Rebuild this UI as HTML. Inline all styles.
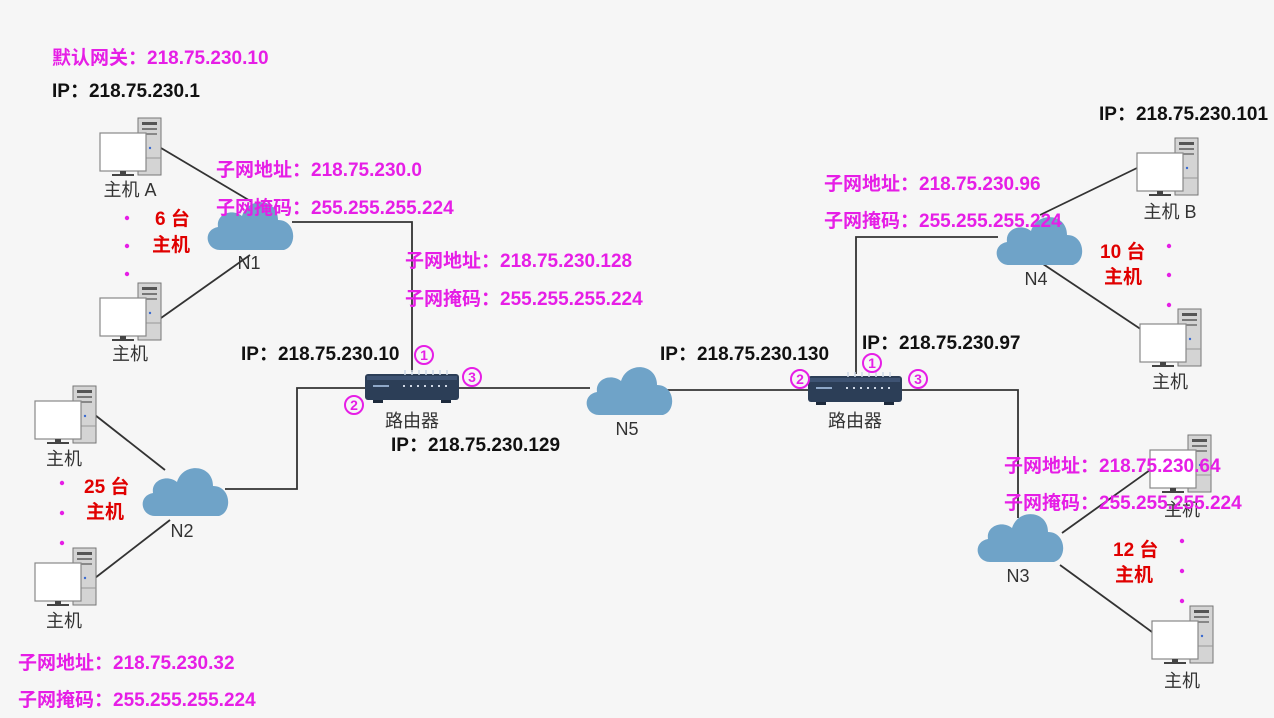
<!DOCTYPE html>
<html><head><meta charset="utf-8"><style>
html,body{margin:0;padding:0;background:#f6f6f6;}
svg{display:block;}
text{font-family:"Liberation Sans","Noto Sans CJK SC",sans-serif;}
.m{fill:#e61ee6;font-weight:bold;font-size:19px;}
.k{fill:#111;font-weight:bold;font-size:19px;}
.r{fill:#e00000;font-weight:bold;font-size:19px;}
.g{fill:#333;font-size:18px;}
.c{fill:#e61ee6;font-size:14px;font-weight:bold;}
</style></head><body>
<svg width="1274" height="718" viewBox="0 0 1274 718" xmlns="http://www.w3.org/2000/svg">
<defs>
<g id="pc">
<rect x="38" y="0" width="23" height="57" fill="#d4d4d4" stroke="#777" stroke-width="1"/>
<rect x="42" y="4" width="15" height="3" fill="#555"/>
<rect x="42" y="10" width="15" height="2" fill="#777"/>
<rect x="42" y="15" width="15" height="2" fill="#888"/>
<circle cx="50" cy="30" r="1.2" fill="#3a6ad0"/>
<line x1="38" y1="40" x2="61" y2="40" stroke="#999"/>
<rect x="0" y="15" width="46" height="38" fill="#fff" stroke="#888" stroke-width="1.2"/>
<rect x="20" y="53" width="6" height="4" fill="#444"/>
<rect x="12" y="56" width="22" height="2" fill="#444"/>
</g>
<g id="cloud">
<path d="M16,54 C2,54 -2,34 14,31 C12,18 28,12 38,20 C44,0 74,2 74,24 C92,24 94,50 80,54 Z" fill="#6fa3c8"/>
</g>
<g id="router">
<rect x="0" y="4" width="94" height="26" rx="3" fill="#2c3e57"/>
<rect x="2" y="6" width="90" height="4" fill="#3e5373"/>
<line x1="8" y1="16" x2="24" y2="16" stroke="#8fa8c8" stroke-width="2"/>
<g fill="#cfd8e6"><rect x="38" y="15" width="2" height="2"/><rect x="45" y="15" width="2" height="2"/><rect x="52" y="15" width="2" height="2"/><rect x="59" y="15" width="2" height="2"/><rect x="66" y="15" width="2" height="2"/><rect x="73" y="15" width="2" height="2"/><rect x="80" y="15" width="2" height="2"/></g>
<g stroke="#cfd8e6" stroke-width="1.5"><line x1="40" y1="0" x2="40" y2="5"/><line x1="47" y1="0" x2="47" y2="5"/><line x1="54" y1="0" x2="54" y2="5"/><line x1="61" y1="0" x2="61" y2="5"/><line x1="68" y1="0" x2="68" y2="5"/><line x1="75" y1="0" x2="75" y2="5"/><line x1="82" y1="0" x2="82" y2="5"/></g>
<rect x="8" y="30" width="10" height="3" fill="#1d2a3c"/><rect x="76" y="30" width="10" height="3" fill="#1d2a3c"/>
</g>
</defs>

<g stroke="#333" stroke-width="1.8" fill="none">
<line x1="161" y1="148" x2="252" y2="202"/>
<line x1="161" y1="318" x2="250" y2="255"/>
<polyline points="292,222 412,222 412,372"/>
<polyline points="365,388 297,388 297,489 225,489"/>
<line x1="95" y1="415" x2="165" y2="470"/>
<line x1="95" y1="578" x2="170" y2="520"/>
<line x1="458" y1="388" x2="590" y2="388"/>
<line x1="665" y1="390" x2="808" y2="390"/>
<polyline points="856,374 856,237 998,237"/>
<polyline points="902,390 1018,390 1018,518"/>
<line x1="1040" y1="215" x2="1137" y2="168"/>
<line x1="1040" y1="262" x2="1142" y2="330"/>
<line x1="1062" y1="533" x2="1150" y2="470"/>
<line x1="1060" y1="565" x2="1152" y2="632"/>
</g>

<use href="#pc" x="100" y="118"/>
<use href="#pc" x="100" y="283"/>
<use href="#pc" x="35" y="386"/>
<use href="#pc" x="35" y="548"/>
<use href="#pc" x="1137" y="138"/>
<use href="#pc" x="1140" y="309"/>
<use href="#pc" x="1150" y="435"/>
<use href="#pc" x="1152" y="606"/>

<use href="#cloud" x="204" y="196"/>
<use href="#cloud" x="139" y="462"/>
<use href="#cloud" x="583" y="361"/>
<use href="#cloud" x="993" y="211"/>
<use href="#cloud" x="974" y="508"/>

<use href="#router" x="365" y="370"/>
<use href="#router" x="808" y="372"/>

<g class="g" text-anchor="middle">
<text x="130" y="196">主机 A</text>
<text x="130" y="360">主机</text>
<text x="64" y="465">主机</text>
<text x="64" y="627">主机</text>
<text x="1170" y="218">主机 B</text>
<text x="1170" y="388">主机</text>
<text x="1182" y="516">主机</text>
<text x="1182" y="687">主机</text>
<text x="249" y="269">N1</text>
<text x="182" y="537">N2</text>
<text x="627" y="435">N5</text>
<text x="1036" y="285">N4</text>
<text x="1018" y="582">N3</text>
<text x="412" y="427">路由器</text>
<text x="855" y="427">路由器</text>
</g>

<g class="m">
<text x="52" y="64">默认网关：218.75.230.10</text>
<text x="216" y="176">子网地址：218.75.230.0</text>
<text x="216" y="214">子网掩码：255.255.255.224</text>
<text x="405" y="267">子网地址：218.75.230.128</text>
<text x="405" y="305">子网掩码：255.255.255.224</text>
<text x="824" y="190">子网地址：218.75.230.96</text>
<text x="824" y="227">子网掩码：255.255.255.224</text>
<text x="1004" y="472">子网地址：218.75.230.64</text>
<text x="1004" y="509">子网掩码：255.255.255.224</text>
<text x="18" y="669">子网地址：218.75.230.32</text>
<text x="18" y="706">子网掩码：255.255.255.224</text>
</g>
<g class="k">
<text x="52" y="97">IP：218.75.230.1</text>
<text x="241" y="360">IP：218.75.230.10</text>
<text x="391" y="451">IP：218.75.230.129</text>
<text x="660" y="360">IP：218.75.230.130</text>
<text x="862" y="349">IP：218.75.230.97</text>
<text x="1099" y="120">IP：218.75.230.101</text>
</g>
<g class="r">
<text x="155" y="225">6 台</text>
<text x="152" y="251">主机</text>
<text x="84" y="493">25 台</text>
<text x="86" y="518">主机</text>
<text x="1100" y="258">10 台</text>
<text x="1104" y="283">主机</text>
<text x="1113" y="556">12 台</text>
<text x="1115" y="581">主机</text>
</g>
<g fill="#e61ee6">
<circle cx="127" cy="218" r="2.2"/><circle cx="127" cy="246" r="2.2"/><circle cx="127" cy="274" r="2.2"/>
<circle cx="62" cy="483" r="2.2"/><circle cx="62" cy="513" r="2.2"/><circle cx="62" cy="543" r="2.2"/>
<circle cx="1169" cy="246" r="2.2"/><circle cx="1169" cy="275" r="2.2"/><circle cx="1169" cy="305" r="2.2"/>
<circle cx="1182" cy="541" r="2.2"/><circle cx="1182" cy="571" r="2.2"/><circle cx="1182" cy="601" r="2.2"/>
</g>
<g fill="none" stroke="#e61ee6" stroke-width="2">
<circle cx="424" cy="355" r="9"/><circle cx="472" cy="377" r="9"/><circle cx="354" cy="405" r="9"/>
<circle cx="872" cy="363" r="9"/><circle cx="800" cy="379" r="9"/><circle cx="918" cy="379" r="9"/>
</g>
<g class="c" text-anchor="middle">
<text x="424" y="360">1</text>
<text x="472" y="382">3</text>
<text x="354" y="410">2</text>
<text x="872" y="368">1</text>
<text x="800" y="384">2</text>
<text x="918" y="384">3</text>
</g>
</svg>
</body></html>
